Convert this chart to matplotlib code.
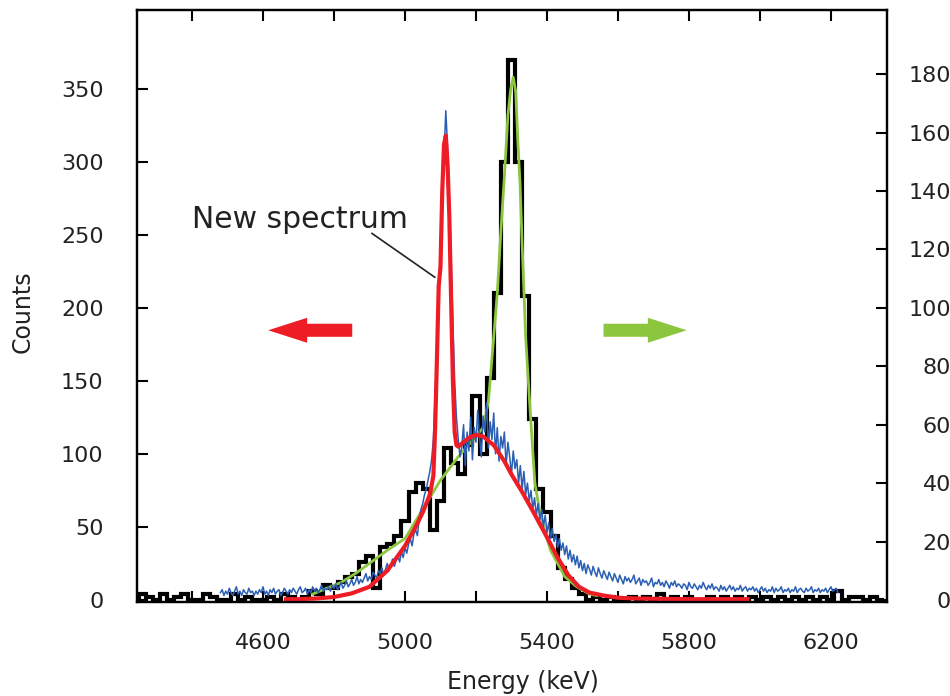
#!/usr/bin/env python3
"""
Alpha spectrum comparison: new spectrum (left axis) vs old histogram (right axis).
"""

import numpy as np
import matplotlib
matplotlib.use('Agg')
import matplotlib.pyplot as plt

# ---- data -------------------------------------------------------------
# old spectrum, 20 keV bins starting at 4250 keV (right axis)
old_bin_start = 4250
old_bin_width = 20
old_counts = [
    2, 1, 0, 2, 0, 1, 2, 0, 0, 2,
    1, 0, 0, 2, 0, 1, 0, 0, 1, 0,
    2, 1, 0, 1, 3, 2, 5, 4, 6, 8,
    9, 13, 15, 4, 18, 19, 22, 27, 37, 40,
    38, 24, 34, 52, 47, 43, 53, 70, 50, 76,
    105, 150, 185, 150, 104, 62, 38, 30, 22, 11,
    7, 4, 2, 0, 1, 0, 1, 0, 0, 1,
    0, 1, 0, 2, 0, 1, 0, 1, 0, 0,
    1, 0, 1, 0, 1, 0, 1, 0, 1, 0,
    1, 0, 1, 0, 1, 0, 1, 0, 3, 0,
    1, 1, 0, 1, 0,
]

# fit to the old spectrum (right axis)
green_energy = [4740, 4780, 4820, 4860, 4900, 4950, 5000, 5050, 5100, 5150,
                5200, 5220, 5235, 5250, 5260, 5270, 5280, 5290, 5298, 5305,
                5312, 5318, 5324, 5330, 5340, 5352, 5366, 5380, 5395, 5410,
                5428, 5450, 5484, 5520, 5540]
green_fit = [2, 4, 6, 9, 12.5, 17, 21, 31, 41, 49,
             56, 59, 68, 90, 105, 126, 145, 166, 175, 179,
             174, 157, 143, 122, 90, 66, 40, 30, 23, 17,
             13, 8, 4.5, 2, 1.5]

# new spectrum, 5 keV steps starting at 4480 keV (left axis), one row = 100 keV
new_start = 4480
new_step = 5
new_counts = [
    5, 7, 3, 6, 4, 8, 5, 3, 6, 9, 4, 6, 3, 7, 5, 4, 8, 5, 6, 3,
    6, 4, 7, 5, 9, 4, 6, 3, 7, 5, 8, 4, 6, 7, 3, 5, 8, 6, 4, 7,
    5, 8, 6, 4, 7, 9, 5, 6, 8, 4, 7, 5, 9, 6, 8, 5, 7, 10, 6, 8,
    7, 9, 6, 10, 8, 11, 7, 9, 12, 8, 10, 13, 9, 11, 14, 10, 12, 16, 11, 14,
    12, 15, 18, 13, 16, 14, 19, 17, 15, 20, 18, 22, 17, 21, 25, 20, 24, 28, 23, 27,
    30, 26, 33, 29, 36, 32, 38, 42, 37, 45, 48, 44, 56, 62, 66, 72, 76, 82, 88, 96,
    110, 140, 175, 210, 245, 285, 305, 335, 310, 275, 235, 190, 150, 125, 110, 98, 105, 120, 92, 115,
    102, 125, 96, 118, 108, 130, 112, 98, 126, 115, 135, 104, 122, 110, 128, 100, 118, 95, 112, 104,
    115, 92, 108, 98, 86, 102, 90, 96, 80, 92, 76, 88, 72, 80, 68, 75, 62, 70, 58, 66,
    55, 62, 50, 58, 46, 53, 42, 49, 40, 45, 36, 42, 34, 39, 31, 37, 28, 34, 26, 31,
    24, 30, 22, 27, 20, 25, 18, 24, 21, 17, 23, 19, 16, 22, 18, 15, 20, 17, 14, 19,
    16, 13, 18, 15, 12, 17, 14, 11, 16, 13, 15, 12, 14, 17, 11, 13, 15, 10, 14, 12,
    13, 10, 12, 15, 9, 12, 11, 14, 10, 12, 9, 13, 11, 8, 12, 10, 13, 9, 11, 10,
    8, 11, 10, 7, 12, 9, 8, 11, 9, 7, 10, 8, 12, 9, 7, 10, 8, 11, 7, 9,
    8, 6, 10, 7, 9, 6, 8, 10, 7, 9, 6, 8, 7, 10, 6, 8, 9, 6, 8, 7,
    9, 6, 8, 5, 7, 9, 6, 8, 5, 7, 6, 9, 5, 8, 6, 7, 9, 5, 7, 6,
    8, 5, 7, 6, 9, 5, 7, 8, 6, 5, 8, 6, 7, 9, 5, 7, 6, 8, 5, 7,
    6, 8, 5, 7, 9, 6, 7, 8, 5,
]

# fit to the new spectrum (left axis)
red_energy = [4665, 4700, 4750, 4800, 4850, 4900, 4950, 5000, 5030, 5050,
              5070, 5080, 5085, 5090, 5095, 5100, 5105, 5110, 5115, 5120,
              5125, 5130, 5135, 5140, 5145, 5150, 5160, 5180, 5200, 5220,
              5250, 5280, 5300, 5330, 5360, 5400, 5430, 5460, 5490, 5520,
              5560, 5600, 5650, 5700, 5800, 5900, 5965]
red_fit = [0.5, 0.5, 1, 2, 4.5, 9, 20, 37, 50, 60,
           72, 85, 118, 165, 215, 228, 280, 312, 318, 298,
           262, 205, 150, 115, 106, 105, 107, 111, 113, 112,
           106, 95, 86, 74, 61, 43, 29, 17, 9, 5,
           3, 1.5, 1, 0.8, 0.5, 0.5, 0.5]

x_ticks = [4400, 4600, 4800, 5000, 5200, 5400, 5600, 5800, 6000, 6200]
x_tick_labels = ['', '4600', '', '5000', '', '5400', '', '5800', '', '6200']
left_ticks = [0, 50, 100, 150, 200, 250, 300, 350]
right_ticks = [0, 20, 40, 60, 80, 100, 120, 140, 160, 180]

# ---- plot -------------------------------------------------------------
plt.rcParams['font.family'] = ['DejaVu Sans']

fig = plt.figure(figsize=(9.5, 6.96), dpi=100)
ax = fig.add_axes([0.1442, 0.1351, 0.7895, 0.8505])
ax2 = ax.twinx()

old_edges = old_bin_start + old_bin_width * np.arange(len(old_counts) + 1)
ax2.stairs(old_counts, old_edges, color='black', linewidth=3.0)
ax2.plot(green_energy, green_fit, color='#8cc63f', linewidth=2.0)

new_energy = new_start + new_step * np.arange(len(new_counts))
ax.plot(new_energy, new_counts, color='#2b5fb4', linewidth=1.1)
ax.plot(red_energy, red_fit, color='#ee1c25', linewidth=3.0)

# left axis drawn above the twin
ax.set_zorder(ax2.get_zorder() + 1)
ax.patch.set_visible(False)

ax.set_xlim(4245, 6358)
ax.set_ylim(-1.4, 404)
ax2.set_ylim(-0.7, 202)

ax.set_xticks(x_ticks)
ax.set_xticklabels(x_tick_labels)
ax.set_yticks(left_ticks)
ax2.set_yticks(right_ticks)

ax.tick_params(axis='x', direction='in', length=8, width=1.5, pad=22,
               labelsize=16, labelcolor='#222222', top=True)
ax.tick_params(axis='y', direction='in', length=8, width=1.5, pad=24,
               labelsize=16, labelcolor='#222222')
ax2.tick_params(axis='y', direction='in', length=8, width=1.5, pad=46,
                labelsize=16, labelcolor='#222222')
for lbl in ax2.get_yticklabels():
    lbl.set_horizontalalignment('right')

for a in (ax, ax2):
    for sp in a.spines.values():
        sp.set_linewidth(1.6)

ax.set_xlabel('Energy (keV)', fontsize=17, color='#222222')
ax.xaxis.set_label_coords(0.515, -0.115)
ax.set_ylabel('Counts', fontsize=17, color='#222222')
ax.yaxis.set_label_coords(-0.137, 0.49)

# annotation
ax.text(4400, 255, 'New spectrum', fontsize=21.5, color='#222222',
        ha='left', va='baseline')
ax.plot([4907, 5084], [251, 221], color='#222222', linewidth=1.2)

# direction arrows
arrow_style = 'simple,head_length=1.4,head_width=0.9,tail_width=0.47'
ax.annotate('', xy=(0.175, 0.459), xytext=(0.287, 0.459),
            xycoords='axes fraction',
            arrowprops=dict(arrowstyle=arrow_style, color='#ee1c25',
                            mutation_scale=20, shrinkA=0, shrinkB=0, lw=0))
ax.annotate('', xy=(0.733, 0.459), xytext=(0.622, 0.459),
            xycoords='axes fraction',
            arrowprops=dict(arrowstyle=arrow_style, color='#8cc63f',
                            mutation_scale=20, shrinkA=0, shrinkB=0, lw=0))

fig.savefig('out.png', dpi=100)
